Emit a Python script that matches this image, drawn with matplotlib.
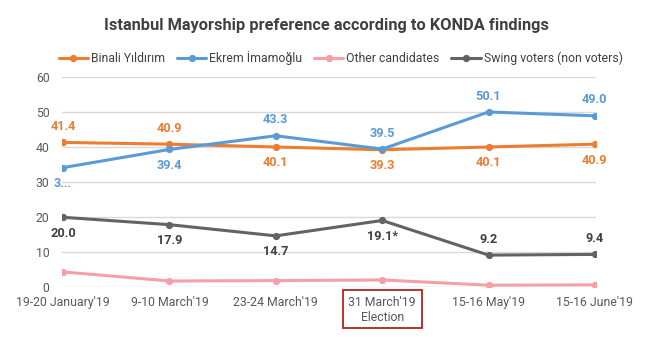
import matplotlib
matplotlib.use("Agg")
import matplotlib.pyplot as plt
from matplotlib.patches import Rectangle

plt.rcParams['font.family'] = ['Roboto', 'DejaVu Sans']

categories = ["19-20 January'19", "9-10 March'19", "23-24 March'19",
              "31 March'19\nElection", "15-16 May'19", "15-16 June'19"]
binali = [41.4, 40.9, 40.1, 39.3, 40.1, 40.9]
ekrem = [34.2, 39.4, 43.3, 39.5, 50.1, 49.0]
others = [4.4, 1.8, 1.9, 2.1, 0.6, 0.7]
swing = [20.0, 17.9, 14.7, 19.1, 9.2, 9.4]

binali_labels = ["41.4", "40.9", "40.1", "39.3", "40.1", "40.9"]
ekrem_labels = ["3...", "39.4", "43.3", "39.5", "50.1", "49.0"]
swing_labels = ["20.0", "17.9", "14.7", "19.1*", "9.2", "9.4"]

# +1 = label above the point, -1 = below
binali_side = [1, 1, -1, -1, -1, -1]
ekrem_side = [-1, -1, 1, 1, 1, 1]
swing_side = [-1, -1, -1, -1, 1, 1]

c_binali = "#ED7D31"
c_ekrem = "#5B9BD5"
c_other = "#F4A0A4"
c_swing = "#636363"

fig = plt.figure(figsize=(6.48, 3.37), dpi=100)
ax = fig.add_axes([0.0957, 0.1475, 0.824, 0.623])

x = list(range(len(categories)))
series = [
    (binali, c_binali, "Binali Yıldırım"),
    (ekrem, c_ekrem, "Ekrem İmamoğlu"),
    (others, c_other, "Other candidates"),
    (swing, c_swing, "Swing voters (non voters)"),
]
for vals, col, name in series:
    ax.plot(x, vals, color=col, lw=2.2, marker="o", ms=4.2, label=name,
            solid_capstyle="round", zorder=3)

def annotate(vals, labels, sides, col):
    for xi, v, t, s in zip(x, vals, labels, sides):
        ax.annotate(t, (xi, v), xytext=(0, 11.5 * s), textcoords="offset points",
                    ha="center", va="center", fontsize=9.2, fontweight="bold",
                    color=col, zorder=4)

annotate(binali, binali_labels, binali_side, c_binali)
annotate(ekrem, ekrem_labels, ekrem_side, c_ekrem)
annotate(swing, swing_labels, swing_side, "#404040")

ax.set_ylim(0, 60)
ax.set_yticks(range(0, 61, 10))
ax.set_xlim(-0.01, 5.01)
ax.set_xticks(x)
ax.set_xticklabels(categories)
ax.grid(axis="y", color="#D9D9D9", lw=1)
ax.set_axisbelow(True)
for sp in ax.spines.values():
    sp.set_visible(False)
ax.tick_params(length=0, labelsize=8.8, labelcolor="#595959")
ax.tick_params(axis="x", pad=6)
ax.tick_params(axis="y", pad=9)

# box around the election date label
ax.add_patch(Rectangle((0.529, 0.027), 0.123, 0.111, transform=fig.transFigure,
                       fill=False, edgecolor="#B22222", lw=1.3, clip_on=False))

fig.text(0.503, 0.923, "Istanbul Mayorship preference according to KONDA findings",
         ha="center", va="center", fontsize=11.8, fontweight="bold", color="#404040")

leg = ax.legend(loc="center", bbox_to_anchor=(0.522, 1.09), ncol=4, frameon=False,
                fontsize=8.8, handlelength=2.4, handletextpad=0.25, columnspacing=0.95,
                borderaxespad=0)
for t in leg.get_texts():
    t.set_color("#404040")

fig.savefig("out.png", dpi=100)
